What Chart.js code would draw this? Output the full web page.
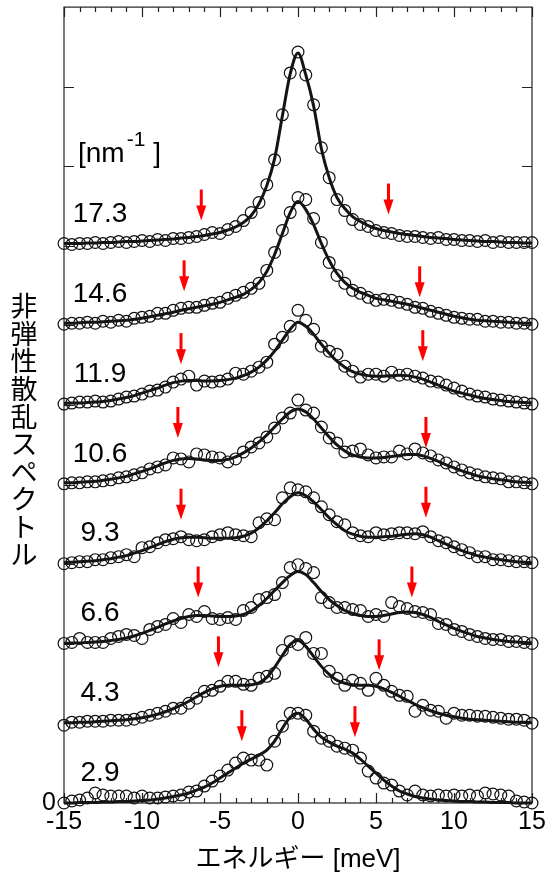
<!DOCTYPE html>
<html lang="ja">
<head>
<meta charset="utf-8">
<title>非弾性散乱スペクトル</title>
<script src="https://cdn.jsdelivr.net/npm/chart.js@4.4.1/dist/chart.umd.min.js"></script>
<style>
  html, body { margin: 0; padding: 0; background: #fff; }
  #wrap { width: 551px; height: 876px; }
</style>
</head>
<body>
<div id="wrap"><canvas id="spectra"></canvas></div>
<script>
// energy transfer of the measured points [meV]
const energy = [
  -15, -14.5, -14, -13.5, -13, -12.5, -12, -11.5, -11, -10.5,
  -10, -9.5, -9, -8.5, -8, -7.5, -7, -6.5, -6, -5.5,
  -5, -4.5, -4, -3.5, -3, -2.5, -2, -1.5, -1, -0.5,
  0,
  0.5, 1, 1.5, 2, 2.5, 3, 3.5, 4, 4.5, 5,
  5.5, 6, 6.5, 7, 7.5, 8, 8.5, 9, 9.5, 10,
  10.5, 11, 11.5, 12, 12.5, 13, 13.5, 14, 14.5, 15
];

// wave numbers [nm^-1], bottom to top, and the vertical offset of each spectrum
const qLabels = ['2.9', '4.3', '6.6', '9.3', '10.6', '11.9', '14.6', '17.3'];
const offsets = [0, 80, 160, 240, 320, 400, 480, 560];

// measured intensities (circles) and fitted curves (solid lines)
const obs29 = [
  0, 2, 3, 5, 10, 8, 7, 7, 7, 5,
  7, 5, 5, 6, 7, 8, 11, 12, 17, 22,
  27, 33, 40, 45, 43, 43, 38, 62, 77, 90,
  90,
  88, 72, 65, 62, 57, 55, 53, 45, 32, 25,
  20, 18, 12, 8, 12, 8, 7, 8, 7, 8,
  7, 8, 7, 10, 9, 8, 7, 2, 1, 0
];
const fit29 = [
  0, 0, 0.5, 0.5, 0.5, 1, 1, 1.5, 1.5, 2,
  2.5, 3, 4, 5, 6.5, 8, 10, 13, 16, 20,
  25, 30, 35, 40, 44, 48, 53, 62, 75, 86,
  90,
  84, 74, 66, 61, 57, 54, 50, 44, 37, 30,
  23, 17, 12, 9, 6.5, 5, 4, 3, 2.5, 2,
  1.5, 1.5, 1, 1, 0.5, 0.5, 0.5, 0, 0, 0
];
const obs43 = [
  -2, 1, 1, 2, 2, 2, 3, 3, 3, 4,
  6, 8, 10, 12, 15, 15, 20, 25, 32, 33,
  37, 42, 42, 39, 38, 45, 47, 50, 73, 82,
  79,
  86, 70, 70, 52, 45, 38, 43, 40, 33, 45,
  38, 32, 28, 27, 12, 18, 13, 12, 5, 10,
  8, 8, 7, 7, 6, 5, 4, 4, 3, 0
];
const fit43 = [
  0.5, 0.5, 1, 1, 1.5, 2, 2.5, 3, 3.5, 4.5,
  5.5, 7, 9, 11.5, 14.5, 18, 22, 26.5, 31, 34.5,
  37, 38, 38, 38, 38.5, 40.5, 46, 56, 68, 79,
  83,
  77, 67, 57, 49, 43, 40, 38.5, 38, 38, 37,
  34.5, 31, 27, 23, 19, 15.5, 12.5, 10, 8, 6.5,
  5, 4, 3.5, 3, 2.5, 2, 1.5, 1, 1, 0.5
];
const obs66 = [
  0, 1, 5, 1, 1, 1, 5, 7, 9, 8,
  5, 14, 17, 19, 25, 21, 29, 27, 32, 25,
  24, 26, 24, 33, 36, 44, 46, 49, 61, 76,
  79,
  75, 71, 46, 41, 36, 36, 34, 33, 27, 29,
  27, 41, 37, 35, 32, 31, 29, 20, 19, 14,
  12, 9, 7, 5, 4, 4, 2, 2, 1, 0
];
const fit66 = [
  0, 0.5, 0.5, 1, 1.5, 2, 3, 4, 5.5, 7.5,
  10, 13, 16, 19.5, 22.5, 25, 27, 28, 28, 27.5,
  27, 27, 27.5, 29, 32.5, 38, 45, 53, 61, 68,
  72,
  69, 61, 52, 44, 38, 33, 30, 28, 27, 27,
  28, 29.5, 31, 31.5, 31, 29, 26, 22, 18.5, 15,
  12, 9.5, 7, 5.5, 4, 3, 2, 1.5, 1, 0.5
];
const obs93 = [
  0, 1, 2, 2, 4, 4, 6, 7, 9, 7,
  16, 17, 21, 24, 25, 27, 24, 23, 24, 27,
  29, 31, 29, 28, 27, 41, 45, 44, 66, 76,
  74,
  72, 66, 57, 49, 42, 39, 31, 28, 27, 31,
  29, 30, 31, 31, 30, 32, 27, 23, 21, 17,
  14, 11, 7, 7, 4, 4, 3, 2, 2, 1
];
const fit93 = [
  1, 1.5, 2, 2.5, 3, 4, 5, 6.5, 8, 10.5,
  13, 16, 19, 22, 24.5, 26, 26.5, 26.5, 26, 25.5,
  25.5, 25.5, 26, 27.5, 30.5, 36, 43, 51, 60, 67,
  71,
  68, 62, 54, 46, 39, 33, 29.5, 27.5, 26.5, 26.5,
  27, 27.5, 28.5, 29.5, 30, 29, 26.5, 23, 19.5, 16,
  13, 10.5, 8, 6.5, 5, 4, 3, 2, 1.5, 1
];
const obs106 = [
  0, 1, 1, 2, 2, 3, 4, 6, 7, 9,
  11, 15, 17, 19, 26, 25, 22, 30, 29, 27,
  26, 22, 25, 32, 37, 41, 47, 56, 66, 71,
  84,
  74, 71, 57, 46, 41, 32, 33, 35, 29, 26,
  27, 27, 33, 30, 35, 31, 28, 24, 21, 17,
  14, 11, 9, 7, 6, 5, 2, 2, 1, 0
];
const fit106 = [
  1, 1, 1.5, 2, 2.5, 3.5, 4.5, 6, 7.5, 10,
  12.5, 15, 18, 21, 23.5, 25, 25.5, 25, 24, 23.5,
  23.5, 24.5, 27, 31, 36, 42, 49, 57, 65, 72,
  75,
  72, 65, 56, 47, 39, 33, 29, 27, 26, 26,
  26.5, 27.5, 28.5, 29.5, 29.5, 28, 25.5, 22.5, 19, 16,
  13, 10.5, 8, 6.5, 5, 4, 3, 2, 1.5, 1
];
const obs119 = [
  0, 1, 2, 2, 3, 2, 3, 5, 7, 8,
  10, 13, 14, 17, 22, 25, 28, 19, 23, 22,
  23, 25, 31, 30, 33, 37, 42, 60, 67, 78,
  94,
  84, 75, 58, 53, 50, 38, 33, 27, 30, 30,
  28, 32, 29, 30, 28, 26, 23, 22, 19, 16,
  13, 10, 8, 7, 5, 4, 3, 2, 1, 0
];
const fit119 = [
  0.5, 1, 1, 1.5, 2, 2.5, 3.5, 5, 6.5, 8.5,
  11, 13.5, 16, 19, 21.5, 23, 23.5, 23.5, 23, 23,
  23.5, 24.5, 26, 28.5, 32, 37, 44, 53, 64, 75,
  82,
  78, 70, 60, 51, 43, 37, 32.5, 30, 28.5, 28,
  28, 28.5, 29, 28.5, 27, 25, 22, 19, 16, 13,
  11, 9, 7, 5.5, 4.5, 3.5, 2.5, 2, 1.5, 1
];
const obs146 = [
  0, 1, 1, 2, 1, 3, 2, 4, 3, 6,
  7, 8, 11, 11, 14, 16, 17, 17, 19, 21,
  22, 26, 29, 32, 36, 41, 54, 72, 94, 112,
  127,
  125, 106, 82, 62, 49, 41, 34, 31, 27, 24,
  25, 24, 22, 20, 17, 16, 13, 11, 9, 7,
  6, 5, 5, 3, 3, 2, 2, 1, 1, 0
];
const fit146 = [
  1, 1, 1.5, 2, 2, 2.5, 3, 3.5, 4, 5,
  6, 7.5, 9, 10.5, 12, 14, 15.5, 17, 18.5, 20,
  22, 24.5, 27, 30, 35, 42, 53, 70, 91, 112,
  123,
  115, 100, 81, 64, 51, 42, 36, 32, 29, 26,
  24.5, 23, 21.5, 20, 18, 16, 14, 12, 10, 8,
  6.5, 5, 4, 3.5, 3, 2.5, 2, 1.5, 1, 1
];
const obs173 = [
  1, 0, 1, 1, 2, 1, 2, 3, 2, 3,
  4, 3, 5, 4, 6, 6, 7, 8, 10, 12,
  11, 15, 18, 24, 32, 42, 60, 85, 130, 172,
  193,
  170, 140, 97, 67, 45, 34, 25, 20, 18, 14,
  12, 11, 9, 8, 8, 7, 6, 7, 5, 5,
  4, 4, 3, 4, 2, 3, 2, 2, 2, 2
];
const fit173 = [
  1, 1, 1, 1.5, 1.5, 2, 2, 2.5, 3, 3,
  3.5, 4, 4.5, 5, 5.5, 6.5, 7, 8, 9, 10.5,
  12, 14.5, 17.5, 22, 29, 41, 59, 86, 129, 171,
  192,
  170, 139, 96, 67, 47, 36, 28, 23, 19, 16,
  14, 12.5, 11, 10, 9, 8, 7, 6.5, 6, 5,
  4.5, 4, 3.5, 3, 3, 2.5, 2, 2, 1.5, 1.5
];

const observed = [obs29, obs43, obs66, obs93, obs106, obs119, obs146, obs173];
const fitted = [fit29, fit43, fit66, fit93, fit106, fit119, fit146, fit173];

// red arrows: peak energies [meV] and the height of each arrow tip
const arrowLeftE = [-3.6, -5.1, -6.4, -7.5, -7.7, -7.5, -7.3, -6.2];
const arrowRightE = [3.65, 5.2, 7.3, 8.2, 8.2, 8.0, 7.8, 5.8];
const arrowLeftTip = [62, 136, 206, 284, 366, 440, 513, 584];
const arrowRightTip = [66, 133, 206, 286, 356, 443, 507, 590];

const yTitle = '非弾性散乱スペクトル';
const latin = '"Liberation Sans", Arial, sans-serif';
const cjk = '"Liberation Sans", "Noto Sans CJK JP", sans-serif';

Chart.defaults.font.family = latin;
Chart.defaults.color = '#000';

const datasets = [];
observed.forEach((vals, i) => {
  datasets.push({
    label: 'fit ' + qLabels[i],
    data: energy.map((e, j) => ({ x: e, y: offsets[i] + fitted[i][j] })),
    showLine: true,
    borderColor: '#141414',
    borderWidth: 3,
    pointRadius: 0,
    cubicInterpolationMode: 'monotone',
    clip: false
  });
  datasets.push({
    label: 'Q = ' + qLabels[i],
    data: energy.map((e, j) => ({ x: e, y: offsets[i] + vals[j] })),
    showLine: false,
    pointStyle: 'circle',
    pointRadius: 5.9,
    pointBorderWidth: 1.2,
    borderColor: '#111',
    backgroundColor: 'rgba(255,255,255,0)',
    clip: false
  });
});

// frame and inward tick marks, under the data
const frame = {
  id: 'frame',
  beforeDatasetsDraw(chart) {
    const { ctx, chartArea: a, scales: { x, y } } = chart;
    ctx.save();
    ctx.strokeStyle = '#222';
    ctx.lineWidth = 1.2;
    ctx.strokeRect(a.left, a.top, a.right - a.left, a.bottom - a.top);
    ctx.beginPath();
    for (let v = x.min; v <= x.max; v += 1) {
      const px = Math.round(x.getPixelForValue(v)) + 0.5;
      const len = v % 5 === 0 ? 10 : 5;
      ctx.moveTo(px, a.bottom); ctx.lineTo(px, a.bottom - len);
      ctx.moveTo(px, a.top); ctx.lineTo(px, a.top + len);
    }
    y.ticks.forEach(t => {
      if (t.value <= y.min || t.value >= y.max) return;
      const py = Math.round(y.getPixelForValue(t.value)) + 0.5;
      ctx.moveTo(a.left, py); ctx.lineTo(a.left + 10, py);
      ctx.moveTo(a.right, py); ctx.lineTo(a.right - 10, py);
    });
    ctx.stroke();
    ctx.restore();
  }
};

// arrows, Q labels and the vertical axis title
const notes = {
  id: 'notes',
  afterDatasetsDraw(chart) {
    const { ctx, chartArea: a, scales: { x, y } } = chart;
    ctx.save();

    ctx.fillStyle = '#ff0000';
    const arrow = (e, tip) => {
      const px = x.getPixelForValue(e);
      const py = y.getPixelForValue(tip);
      ctx.fillRect(px - 1.5, py - 31, 3, 17);
      ctx.beginPath();
      ctx.moveTo(px - 5, py - 15);
      ctx.lineTo(px + 5, py - 15);
      ctx.lineTo(px, py);
      ctx.closePath();
      ctx.fill();
    };
    qLabels.forEach((q, i) => {
      arrow(arrowLeftE[i], arrowLeftTip[i]);
      arrow(arrowRightE[i], arrowRightTip[i]);
    });

    ctx.fillStyle = '#000';
    ctx.font = '28px ' + latin;
    ctx.textAlign = 'center';
    ctx.textBaseline = 'middle';
    qLabels.forEach((q, i) => {
      ctx.fillText(q, a.left + 36, y.getPixelForValue(offsets[i]) - 30);
    });

    // unit label [nm^-1 ]
    ctx.textAlign = 'left';
    ctx.textBaseline = 'alphabetic';
    let ux = a.left + 14;
    const uy = 162;
    ctx.font = '28px ' + latin;
    ctx.fillText('[nm', ux, uy);
    ux += ctx.measureText('[nm').width + 2;
    ctx.font = '21px ' + latin;
    ctx.fillText('-1', ux, uy - 16);
    ux += ctx.measureText('-1').width;
    ctx.font = '28px ' + latin;
    ctx.fillText(' ]', ux, uy);

    // vertical title, upright characters stacked top to bottom
    ctx.font = '27px "Noto Sans CJK JP", sans-serif';
    ctx.textAlign = 'center';
    ctx.textBaseline = 'middle';
    Array.from(yTitle).forEach((ch, k) => {
      ctx.fillText(ch, 24, 306 + k * 27.6);
    });
    ctx.restore();
  }
};

new Chart(document.getElementById('spectra'), {
  type: 'scatter',
  data: { datasets },
  options: {
    responsive: true,
    maintainAspectRatio: false,
    animation: false,
    devicePixelRatio: 1,
    layout: { padding: { top: 5, right: 19, bottom: 0, left: 0 } },
    plugins: {
      legend: { display: false },
      tooltip: { enabled: false }
    },
    scales: {
      x: {
        type: 'linear',
        min: -15,
        max: 15,
        grid: { display: false },
        border: { display: false },
        ticks: { stepSize: 5, autoSkip: false, maxRotation: 0, padding: -4, color: '#000', font: { size: 25 } },
        title: {
          display: true,
          text: 'エネルギー [meV]',
          color: '#000',
          font: { size: 26, family: cjk, lineHeight: 1.2 },
          padding: { top: 0, bottom: 1 }
        },
        afterFit(s) { s.height = 73; s.paddingLeft = 0; s.paddingRight = 0; }
      },
      y: {
        min: 0,
        max: 798,
        grid: { display: false },
        border: { display: false },
        ticks: {
          stepSize: 80,
          autoSkip: false,
          padding: 0,
          color: '#000',
          font: { size: 25 },
          callback: v => (v === 0 ? '0' : '')
        },
        afterFit(s) { s.width = 64; s.paddingTop = 0; s.paddingBottom = 0; }
      }
    }
  },
  plugins: [frame, notes]
});
</script>
</body>
</html>
